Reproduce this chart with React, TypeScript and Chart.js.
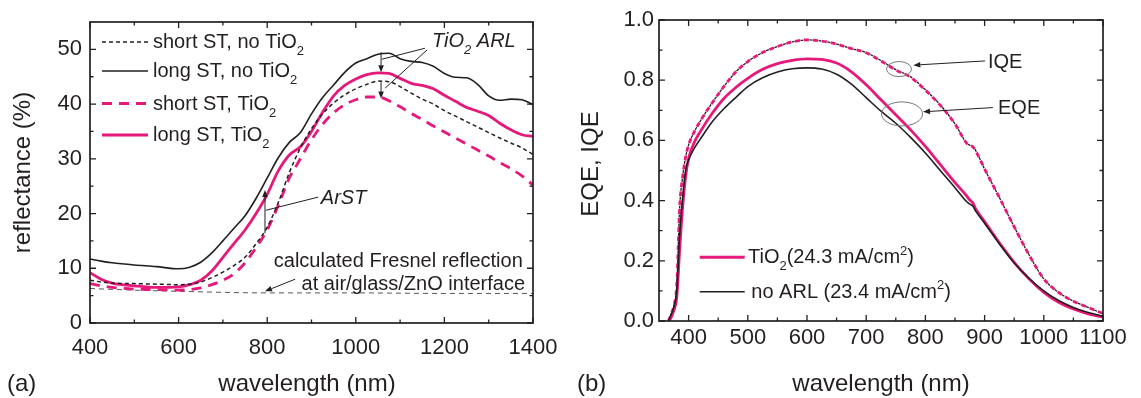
import React, { useEffect, useRef } from 'react';
import { Chart, registerables } from 'chart.js';

Chart.register(...registerables);

const FONT = '"Liberation Sans", Arial, Helvetica, sans-serif';
const INK = '#231f20';
const PINK = '#e6197b';
const GRAY = '#555555';

// ---------------- panel (a): reflectance ----------------
const wavelengthA = [400, 425, 450, 500, 550, 600, 625, 650, 675, 700, 725, 750, 775, 800, 825, 850, 875, 900, 925, 950, 975, 1000, 1025, 1050, 1075, 1100, 1125, 1150, 1175, 1200, 1225, 1250, 1275, 1300, 1325, 1350, 1375, 1400];
const longNoTiO2 = [11.7, 11.3, 11.0, 10.6, 10.3, 9.9, 10.2, 11.1, 12.8, 15.0, 17.3, 19.6, 22.8, 26.5, 30.2, 33.0, 34.8, 38.2, 41.2, 43.5, 45.8, 47.5, 48.3, 49.1, 49.3, 48.3, 47.8, 47.6, 46.9, 45.6, 44.9, 44.8, 43.6, 41.5, 40.7, 40.9, 40.8, 39.9];
const shortNoTiO2 = [7.8, 7.5, 7.3, 7.2, 7.1, 7.0, 7.1, 7.5, 8.3, 9.3, 10.5, 12.0, 14.5, 17.5, 22.0, 27.5, 32.0, 35.5, 38.2, 40.2, 41.7, 42.8, 43.6, 44.2, 44.1, 43.2, 42.0, 40.9, 40.0, 38.8, 37.8, 36.8, 35.8, 34.8, 33.8, 32.9, 32.0, 30.8];
const longTiO2 = [9.2, 8.0, 7.3, 6.8, 6.5, 6.6, 7.0, 7.8, 9.5, 12.0, 14.5, 17.0, 20.0, 23.5, 27.8, 30.7, 32.2, 35.0, 38.5, 41.5, 43.4, 44.6, 45.4, 45.7, 45.6, 44.7, 43.8, 43.4, 42.8, 41.6, 40.5, 39.4, 38.7, 37.9, 36.5, 35.3, 34.4, 34.1];
const shortTiO2 = [7.2, 6.8, 6.5, 6.2, 6.1, 6.0, 6.1, 6.4, 7.0, 7.8, 9.0, 11.0, 13.8, 17.0, 21.5, 26.5, 30.0, 33.5, 36.3, 38.4, 39.9, 40.8, 41.3, 41.3, 40.6, 39.5, 38.3, 37.2, 36.0, 34.9, 33.8, 32.7, 31.6, 30.5, 29.3, 28.2, 26.9, 25.2];
const fresnelWavelength = [400, 500, 600, 700, 800, 1000, 1200, 1400];
const fresnelCalc = [6.3, 6.0, 5.8, 5.6, 5.5, 5.5, 5.4, 5.4];
const xTicksA = [400, 600, 800, 1000, 1200, 1400];
const xMinorA = [500, 700, 900, 1100, 1300];
const yTicksA = [0, 10, 20, 30, 40, 50];
const yMinorA = [5, 15, 25, 35, 45];

// ---------------- panel (b): EQE / IQE ----------------
const wavelengthB = [366, 370, 375, 380, 385, 390, 395, 400, 410, 420, 440, 460, 480, 500, 525, 550, 575, 600, 625, 650, 675, 700, 725, 750, 775, 800, 825, 850, 870, 875, 880, 885, 900, 925, 950, 975, 1000, 1025, 1050, 1075, 1100];
const eqeNoARL = [0, 0.02, 0.045, 0.10, 0.29, 0.41, 0.50, 0.535, 0.575, 0.605, 0.662, 0.706, 0.743, 0.779, 0.808, 0.827, 0.838, 0.841, 0.837, 0.82, 0.787, 0.742, 0.697, 0.657, 0.61, 0.558, 0.50, 0.443, 0.396, 0.388, 0.382, 0.365, 0.325, 0.256, 0.193, 0.142, 0.10, 0.068, 0.045, 0.028, 0.016];
const eqeTiO2 = [0, 0.01, 0.035, 0.08, 0.24, 0.38, 0.48, 0.54, 0.595, 0.63, 0.69, 0.74, 0.776, 0.806, 0.836, 0.855, 0.866, 0.871, 0.869, 0.857, 0.828, 0.785, 0.735, 0.685, 0.635, 0.58, 0.52, 0.46, 0.415, 0.402, 0.393, 0.372, 0.33, 0.26, 0.195, 0.14, 0.095, 0.062, 0.04, 0.024, 0.013];
const iqeNoARL = [0, 0.02, 0.05, 0.12, 0.38, 0.48, 0.545, 0.585, 0.63, 0.665, 0.725, 0.78, 0.828, 0.862, 0.892, 0.912, 0.927, 0.934, 0.930, 0.920, 0.905, 0.892, 0.865, 0.835, 0.811, 0.768, 0.718, 0.655, 0.59, 0.584, 0.58, 0.566, 0.505, 0.41, 0.313, 0.22, 0.14, 0.095, 0.066, 0.045, 0.024];
const iqeTiO2 = [0, 0.02, 0.05, 0.12, 0.38, 0.48, 0.545, 0.585, 0.63, 0.665, 0.725, 0.78, 0.828, 0.862, 0.892, 0.912, 0.927, 0.934, 0.930, 0.920, 0.905, 0.891, 0.864, 0.834, 0.810, 0.767, 0.717, 0.655, 0.59, 0.583, 0.579, 0.565, 0.505, 0.41, 0.313, 0.22, 0.14, 0.095, 0.066, 0.045, 0.025];
const xTicksB = [400, 500, 600, 700, 800, 900, 1000, 1100];
const xMinorB = [450, 550, 650, 750, 850, 950, 1050];
const yTicksB = [0, 0.2, 0.4, 0.6, 0.8, 1.0];
const yMinorB = [0.1, 0.3, 0.5, 0.7, 0.9];

type Seg = { t: string; s?: 'sub' | 'sup' };

const pts = (xs: number[], ys: number[]) => xs.map((x, i) => ({ x, y: ys[i] }));

function drawRich(ctx: CanvasRenderingContext2D, segs: Seg[], x: number, cy: number, size: number, align: 'left' | 'right' | 'center', italic = false, color = INK) {
  const small = Math.round(size * 0.65);
  const it = italic ? 'italic ' : '';
  const fMain = `${it}${size}px ${FONT}`;
  const fSmall = `${it}${small}px ${FONT}`;
  const widths = segs.map((s) => {
    ctx.font = s.s ? fSmall : fMain;
    return ctx.measureText(s.t).width;
  });
  const total = widths.reduce((a, b) => a + b, 0);
  let cx = align === 'left' ? x : align === 'right' ? x - total : x - total / 2;
  const base = cy + size * 0.36;
  ctx.fillStyle = color;
  ctx.textAlign = 'left';
  ctx.textBaseline = 'alphabetic';
  segs.forEach((s, i) => {
    ctx.font = s.s ? fSmall : fMain;
    const dy = s.s === 'sub' ? size * 0.35 : s.s === 'sup' ? -size * 0.42 : 0;
    ctx.fillText(s.t, cx, base + dy);
    cx += widths[i];
  });
}

function arrow(ctx: CanvasRenderingContext2D, x1: number, y1: number, x2: number, y2: number, head = 7, half = 2.8) {
  ctx.strokeStyle = INK;
  ctx.fillStyle = INK;
  ctx.lineWidth = 1;
  ctx.setLineDash([]);
  const a = Math.atan2(y2 - y1, x2 - x1);
  const bx = x2 - head * Math.cos(a);
  const by = y2 - head * Math.sin(a);
  ctx.beginPath();
  ctx.moveTo(x1, y1);
  ctx.lineTo(bx, by);
  ctx.stroke();
  ctx.beginPath();
  ctx.moveTo(x2, y2);
  ctx.lineTo(bx + half * Math.sin(a), by - half * Math.cos(a));
  ctx.lineTo(bx - half * Math.sin(a), by + half * Math.cos(a));
  ctx.closePath();
  ctx.fill();
}

function line(ctx: CanvasRenderingContext2D, x1: number, y1: number, x2: number, y2: number, color = INK, lw = 1, dash: number[] = []) {
  ctx.strokeStyle = color;
  ctx.lineWidth = lw;
  ctx.setLineDash(dash);
  ctx.beginPath();
  ctx.moveTo(x1, y1);
  ctx.lineTo(x2, y2);
  ctx.stroke();
  ctx.setLineDash([]);
}

function rotatedText(ctx: CanvasRenderingContext2D, text: string, x: number, y: number, size: number) {
  ctx.save();
  ctx.translate(x, y);
  ctx.rotate(-Math.PI / 2);
  ctx.font = `${size}px ${FONT}`;
  ctx.fillStyle = INK;
  ctx.textAlign = 'center';
  ctx.textBaseline = 'middle';
  ctx.fillText(text, 0, 0);
  ctx.restore();
}

function makeDecor(xMajor: number[], xMinor: number[], yMajor: number[], yMinor: number[], annotate: (chart: any, ctx: CanvasRenderingContext2D) => void) {
  return {
    id: 'decor',
    afterDatasetsDraw(chart: any) {
      const { ctx, chartArea: ca, scales } = chart;
      ctx.save();
      ctx.strokeStyle = INK;
      ctx.setLineDash([]);
      ctx.lineWidth = 1.3;
      const tx = (vals: number[], len: number) => {
        vals.forEach((v) => {
          const p = scales.x.getPixelForValue(v);
          ctx.beginPath();
          ctx.moveTo(p, ca.bottom);
          ctx.lineTo(p, ca.bottom - len);
          ctx.moveTo(p, ca.top);
          ctx.lineTo(p, ca.top + len);
          ctx.stroke();
        });
      };
      const ty = (vals: number[], len: number) => {
        vals.forEach((v) => {
          const p = scales.y.getPixelForValue(v);
          ctx.beginPath();
          ctx.moveTo(ca.left, p);
          ctx.lineTo(ca.left + len, p);
          ctx.moveTo(ca.right, p);
          ctx.lineTo(ca.right - len, p);
          ctx.stroke();
        });
      };
      tx(xMajor, 6);
      tx(xMinor, 3.5);
      ty(yMajor, 6);
      ty(yMinor, 3.5);
      ctx.lineWidth = 1.7;
      ctx.strokeRect(ca.left, ca.top, ca.right - ca.left, ca.bottom - ca.top);
      annotate(chart, ctx);
      ctx.restore();
    },
  };
}

function decorA(chart: any, ctx: CanvasRenderingContext2D) {
  const { chartArea: ca, scales } = chart;
  const X = (v: number) => scales.x.getPixelForValue(v);
  const Y = (v: number) => scales.y.getPixelForValue(v);
  const rows = [
    { segs: [{ t: 'short ST, no TiO' }, { t: '2', s: 'sub' }] as Seg[], color: INK, w: 1.5, dash: [4, 3], dy: 20 },
    { segs: [{ t: 'long ST, no TiO' }, { t: '2', s: 'sub' }] as Seg[], color: INK, w: 1.6, dash: [], dy: 49 },
    { segs: [{ t: 'short ST, TiO' }, { t: '2', s: 'sub' }] as Seg[], color: PINK, w: 3, dash: [10, 7], dy: 81.5 },
    { segs: [{ t: 'long ST, TiO' }, { t: '2', s: 'sub' }] as Seg[], color: PINK, w: 3, dash: [], dy: 113 },
  ];
  rows.forEach((r) => {
    const y = ca.top + r.dy;
    line(ctx, ca.left + 12, y, ca.left + 58, y, r.color, r.w, r.dash);
    drawRich(ctx, r.segs, ca.left + 63, y - 1, 20, 'left');
  });
  // TiO2 ARL annotation
  drawRich(ctx, [{ t: 'TiO' }, { t: '2', s: 'sub' }, { t: ' ARL' }], X(1172), Y(51.7), 20, 'left', true);
  line(ctx, X(1156), Y(50.2), X(1059), Y(48.2));
  line(ctx, X(1161), Y(49.9), X(1066), Y(42.9));
  arrow(ctx, X(1057), Y(49.5), X(1057), Y(45.8));
  arrow(ctx, X(1057), Y(44.0), X(1057), Y(41.0));
  // ArST annotation
  drawRich(ctx, [{ t: 'ArST' }], X(921), Y(23.1), 20, 'left', true);
  line(ctx, X(915), Y(23.0), X(797), Y(20.6));
  arrow(ctx, X(795), Y(16.4), X(795), Y(24.3));
  // Fresnel annotation
  drawRich(ctx, [{ t: 'calculated Fresnel reflection' }], X(1377), Y(11.5), 20, 'right');
  drawRich(ctx, [{ t: 'at air/glass/ZnO interface' }], X(1382), Y(7.3), 20, 'right');
  arrow(ctx, X(863), Y(8.0), X(795), Y(5.8));
  // axis titles and panel tag
  rotatedText(ctx, 'reflectance (%)', 23, (ca.top + ca.bottom) / 2, 24);
  drawRich(ctx, [{ t: 'wavelength (nm)' }], 307, 382, 24, 'center');
  drawRich(ctx, [{ t: '(a)' }], 7, 382, 24, 'left');
}

function decorB(chart: any, ctx: CanvasRenderingContext2D) {
  const { chartArea: ca, scales } = chart;
  const X = (v: number) => scales.x.getPixelForValue(v);
  const Y = (v: number) => scales.y.getPixelForValue(v);
  // legend
  line(ctx, ca.left + 40.7, ca.bottom - 63.7, ca.left + 85.7, ca.bottom - 63.7, PINK, 3);
  drawRich(ctx, [{ t: 'TiO' }, { t: '2', s: 'sub' }, { t: '(24.3 mA/cm' }, { t: '2', s: 'sup' }, { t: ')' }], ca.left + 89, ca.bottom - 65, 20, 'left');
  line(ctx, ca.left + 40.7, ca.bottom - 29.3, ca.left + 85.7, ca.bottom - 29.3, INK, 1.6);
  drawRich(ctx, [{ t: 'no ARL (23.4 mA/cm' }, { t: '2', s: 'sup' }, { t: ')' }], ca.left + 92.3, ca.bottom - 30.5, 20, 'left');
  // IQE / EQE callouts
  ctx.strokeStyle = '#777777';
  ctx.lineWidth = 1;
  ctx.beginPath();
  ctx.ellipse(X(755.4), Y(0.837), 12.5, 7.5, 0, 0, Math.PI * 2);
  ctx.stroke();
  ctx.beginPath();
  ctx.ellipse(X(760.5), Y(0.688), 20.5, 12, 0, 0, Math.PI * 2);
  ctx.stroke();
  arrow(ctx, X(900.7), Y(0.864), X(779.6), Y(0.85));
  arrow(ctx, X(914), Y(0.709), X(796), Y(0.695));
  drawRich(ctx, [{ t: 'IQE' }], X(905.7), Y(0.864), 20, 'left');
  drawRich(ctx, [{ t: 'EQE' }], X(922.6), Y(0.712), 20, 'left');
  // axis titles and panel tag
  rotatedText(ctx, 'EQE, IQE', 21, 164, 24);
  drawRich(ctx, [{ t: 'wavelength (nm)' }], (ca.left + ca.right) / 2, 382, 24, 'center');
  drawRich(ctx, [{ t: '(b)' }], 7, 382, 24, 'left');
}

function scaleOpts(min: number, max: number, ticks: number[], pad: number, size: number, fmt: (v: number) => string, fit: (s: any) => void) {
  return {
    type: 'linear' as const,
    min,
    max,
    grid: { display: false, drawTicks: false },
    border: { display: false },
    ticks: {
      color: INK,
      font: { family: FONT, size },
      padding: pad,
      autoSkip: false,
      maxRotation: 0,
      callback: (v: any) => fmt(Number(v)),
    },
    afterBuildTicks: (s: any) => {
      s.ticks = ticks.map((v) => ({ value: v }));
    },
    afterFit: fit,
  };
}

function baseOptions(padding: any, scales: any) {
  return {
    responsive: false,
    animation: false as const,
    devicePixelRatio: 1,
    events: [] as any[],
    layout: { padding },
    plugins: { legend: { display: false }, tooltip: { enabled: false }, title: { display: false } },
    elements: {
      point: { radius: 0 },
      line: { tension: 0.4, cubicInterpolationMode: 'monotone' as const, fill: false, borderJoinStyle: 'round' as const },
    },
    scales,
  };
}

export default function App() {
  const refA = useRef<HTMLCanvasElement>(null);
  const refB = useRef<HTMLCanvasElement>(null);

  useEffect(() => {
    const chartA = new Chart(refA.current as HTMLCanvasElement, {
      type: 'line',
      data: {
        datasets: [
          { data: pts(wavelengthA, longNoTiO2), borderColor: INK, borderWidth: 1.6 },
          { data: pts(wavelengthA, shortNoTiO2), borderColor: INK, borderWidth: 1.5, borderDash: [4, 3] },
          { data: pts(wavelengthA, longTiO2), borderColor: PINK, borderWidth: 2.8 },
          { data: pts(wavelengthA, shortTiO2), borderColor: PINK, borderWidth: 2.8, borderDash: [10, 7] },
          { data: pts(fresnelWavelength, fresnelCalc), borderColor: GRAY, borderWidth: 1, borderDash: [5, 4] },
        ] as any,
      },
      options: baseOptions({ top: 22, right: 37, bottom: 0, left: 0 }, {
        x: scaleOpts(400, 1400, xTicksA, 12, 22, (v) => String(v), (s: any) => { s.height = 75; }),
        y: scaleOpts(0, 55, yTicksA, 8, 22, (v) => String(v), (s: any) => { s.width = 90; }),
      }) as any,
      plugins: [makeDecor(xTicksA, xMinorA, yTicksA, yMinorA, decorA)],
    });

    const chartB = new Chart(refB.current as HTMLCanvasElement, {
      type: 'line',
      data: {
        datasets: [
          { data: pts(wavelengthB, iqeNoARL), borderColor: INK, borderWidth: 1.3, borderDash: [3, 6], borderDashOffset: 3.5 },
          { data: pts(wavelengthB, eqeNoARL), borderColor: INK, borderWidth: 1.6 },
          { data: pts(wavelengthB, iqeTiO2), borderColor: PINK, borderWidth: 2.8, borderDash: [5, 4] },
          { data: pts(wavelengthB, eqeTiO2), borderColor: PINK, borderWidth: 2.8 },
        ] as any,
      },
      options: baseOptions({ top: 20, right: 38, bottom: 0, left: 0 }, {
        x: scaleOpts(350, 1100, xTicksB, 4, 22, (v) => String(v), (s: any) => { s.height = 77; }),
        y: scaleOpts(0, 1, yTicksB, 5, 22, (v) => v.toFixed(1), (s: any) => { s.width = 89; }),
      }) as any,
      plugins: [makeDecor(xTicksB, xMinorB, yTicksB, yMinorB, decorB)],
    });

    return () => {
      chartA.destroy();
      chartB.destroy();
    };
  }, []);

  return (
    <div style={{ position: 'absolute', left: 0, top: 0, width: 1141, height: 398, background: '#ffffff' }}>
      <canvas ref={refA} width={570} height={398} style={{ position: 'absolute', left: 0, top: 0 }} />
      <canvas ref={refB} width={571} height={398} style={{ position: 'absolute', left: 570, top: 0 }} />
    </div>
  );
}
